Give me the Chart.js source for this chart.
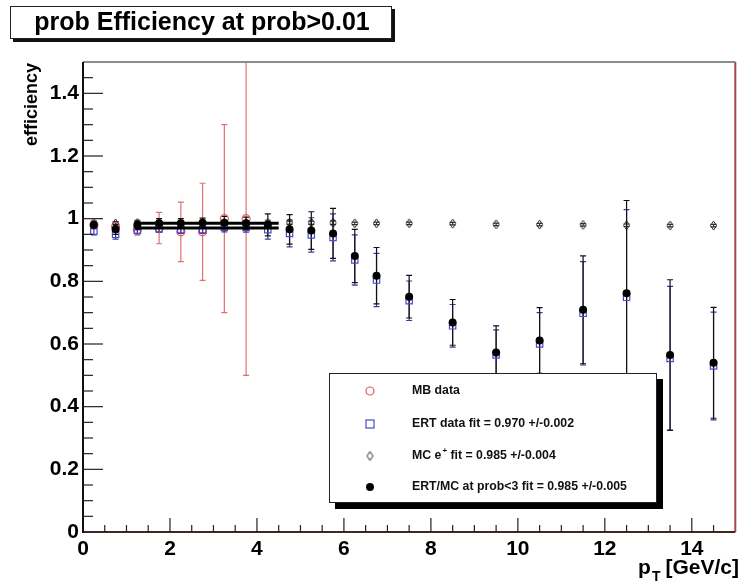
<!DOCTYPE html>
<html>
<head>
<meta charset="utf-8">
<script src="https://cdn.jsdelivr.net/npm/chart.js@4"></script>
<style>
  body { margin: 0; background: #fff; }
  #c { display: block; }
</style>
</head>
<body>
<canvas id="c" width="741" height="588"></canvas>
<script>
// pT bin centres
const xMB = [0.25, 0.75, 1.25, 1.75, 2.25, 2.75, 3.25, 3.75];
const xAll = [0.25, 0.75, 1.25, 1.75, 2.25, 2.75, 3.25, 3.75, 4.25, 4.75, 5.25, 5.75,
  6.25, 6.75, 7.5, 8.5, 9.5, 10.5, 11.5, 12.5, 13.5, 14.5];

// MB data (red circles)
const mbVals = [0.98, 0.975, 0.965, 0.97, 0.958, 0.958, 1.0, 1.0];
const mbErrs = [0.01, 0.012, 0.018, 0.05, 0.095, 0.155, 0.3, 0.5];

// ERT data (blue squares)
const ertVals = [0.96, 0.95, 0.963, 0.968, 0.965, 0.965, 0.973, 0.972, 0.965, 0.953, 0.948, 0.94,
  0.868, 0.804, 0.738, 0.658, 0.565, 0.6, 0.698, 0.749, 0.554, 0.53];
const ertErrs = [0.012, 0.015, 0.012, 0.012, 0.012, 0.012, 0.015, 0.015, 0.03, 0.043, 0.055, 0.075,
  0.08, 0.085, 0.063, 0.068, 0.08, 0.1, 0.165, 0.28, 0.23, 0.172];

// MC e+ (open diamonds)
const mcVals = [0.985, 0.985, 0.986, 0.986, 0.986, 0.986, 0.986, 0.986, 0.986, 0.987, 0.987, 0.987,
  0.985, 0.985, 0.985, 0.984, 0.982, 0.981, 0.98, 0.979, 0.978, 0.978];
const mcErrs = [0.006, 0.006, 0.005, 0.005, 0.005, 0.005, 0.005, 0.005, 0.005, 0.005, 0.005, 0.006,
  0.004, 0.004, 0.004, 0.004, 0.004, 0.004, 0.004, 0.004, 0.004, 0.004];

// ERT/MC at prob<3 (black dots)
const ratioVals = [0.98, 0.966, 0.98, 0.985, 0.985, 0.987, 0.987, 0.985, 0.98, 0.966, 0.962, 0.953,
  0.881, 0.818, 0.751, 0.669, 0.573, 0.611, 0.709, 0.762, 0.565, 0.54];
const ratioErrs = [0.012, 0.016, 0.015, 0.015, 0.015, 0.015, 0.02, 0.02, 0.035, 0.047, 0.06, 0.08,
  0.085, 0.09, 0.068, 0.073, 0.085, 0.105, 0.172, 0.296, 0.24, 0.177];

// fit lines (range and level)
const fitRange = [1.2, 4.5];
const fitErt = 0.970;
const fitRatio = 0.985;

const xTicks = [0, 2, 4, 6, 8, 10, 12, 14];
const yTicks = [0, 0.2, 0.4, 0.6, 0.8, 1, 1.2, 1.4];

const legendRows = [
  { text: "MB data", kind: "circle" },
  { text: "ERT data fit = 0.970 +/-0.002", kind: "square" },
  { text: "MC e", sup: "+", rest: " fit = 0.985 +/-0.004", kind: "diamond" },
  { text: "ERT/MC at prob<3 fit = 0.985 +/-0.005", kind: "dot" }
];

const RED = "#e05a5a";
const BLUE = "#4a4ad0";
const FONT = "'Liberation Sans', Arial, Helvetica, sans-serif";

// small ROOT-like diamond marker
function makeDiamond() {
  const cv = document.createElement("canvas");
  cv.width = 9; cv.height = 11;
  const g = cv.getContext("2d");
  g.strokeStyle = "#222";
  g.lineWidth = 1;
  g.beginPath();
  g.moveTo(4.5, 1); g.lineTo(7.5, 5.5); g.lineTo(4.5, 10); g.lineTo(1.5, 5.5); g.closePath();
  g.stroke();
  return cv;
}
const diamond = makeDiamond();

function pts(xs, ys) {
  return xs.map((x, i) => ({ x: x, y: ys[i] }));
}

// error bars drawn from the dataset's errs array
const errorBars = {
  id: "errorBars",
  beforeDatasetsDraw(chart) {
    const ctx = chart.ctx;
    const xs = chart.scales.x, ys = chart.scales.y;
    const a = chart.chartArea;
    ctx.save();
    ctx.beginPath();
    ctx.rect(a.left, a.top, a.right - a.left, a.bottom - a.top);
    ctx.clip();
    chart.data.datasets.forEach((ds) => {
      if (!ds.errs) return;
      ctx.strokeStyle = ds.errColor;
      ctx.lineWidth = 1.2;
      ds.data.forEach((p, i) => {
        const e = ds.errs[i];
        const px = xs.getPixelForValue(p.x);
        const y1 = ys.getPixelForValue(p.y + e);
        const y2 = ys.getPixelForValue(p.y - e);
        ctx.beginPath();
        ctx.moveTo(px, y1); ctx.lineTo(px, y2);
        ctx.moveTo(px - 3, y1); ctx.lineTo(px + 3, y1);
        ctx.moveTo(px - 3, y2); ctx.lineTo(px + 3, y2);
        ctx.stroke();
      });
    });
    ctx.restore();
  }
};

// frame, inward ticks, titles, legend box
const decorations = {
  id: "decorations",
  afterDraw(chart) {
    const ctx = chart.ctx;
    const xs = chart.scales.x, ys = chart.scales.y;
    const a = chart.chartArea;
    ctx.save();

    // frame
    ctx.lineWidth = 2;
    ctx.strokeStyle = "#8c8c8c";
    ctx.beginPath(); ctx.moveTo(a.left, a.top); ctx.lineTo(a.right, a.top); ctx.stroke();
    ctx.strokeStyle = "#a04a4a";
    ctx.beginPath(); ctx.moveTo(a.right, a.top); ctx.lineTo(a.right, a.bottom); ctx.stroke();
    ctx.strokeStyle = "#4a2222";
    ctx.beginPath(); ctx.moveTo(a.left, a.bottom); ctx.lineTo(a.right, a.bottom); ctx.stroke();
    ctx.strokeStyle = "#111";
    ctx.beginPath(); ctx.moveTo(a.left, a.top); ctx.lineTo(a.left, a.bottom + 1); ctx.stroke();

    // ticks
    ctx.lineWidth = 1.2;
    ctx.strokeStyle = "#222";
    for (let v = 0.5; v < 15; v += 0.5) {
      const px = xs.getPixelForValue(v);
      const len = (v % 2 === 0) ? 14 : 7;
      ctx.beginPath(); ctx.moveTo(px, a.bottom); ctx.lineTo(px, a.bottom - len); ctx.stroke();
    }
    for (let k = 1; k < 30; k++) {
      const v = k * 0.05;
      const py = ys.getPixelForValue(v);
      const len = (k % 4 === 0) ? 20 : 10;
      ctx.beginPath(); ctx.moveTo(a.left, py); ctx.lineTo(a.left + len, py); ctx.stroke();
    }

    // y title
    ctx.fillStyle = "#000";
    ctx.font = "bold 18px " + FONT;
    ctx.save();
    ctx.translate(37, a.top + 1);
    ctx.rotate(-Math.PI / 2);
    ctx.textAlign = "right";
    ctx.textBaseline = "alphabetic";
    ctx.fillText("efficiency", 0, 0);
    ctx.restore();

    // x title p_T [GeV/c]
    ctx.font = "bold 21px " + FONT;
    ctx.textBaseline = "alphabetic";
    ctx.textAlign = "right";
    const right = 739, base = 574;
    ctx.fillText("[GeV/c]", right, base);
    const w1 = ctx.measureText("[GeV/c]").width;
    ctx.font = "bold 14px " + FONT;
    const wT = ctx.measureText("T").width;
    ctx.fillText("T", right - w1 - 5, base + 7);
    ctx.font = "bold 21px " + FONT;
    ctx.fillText("p", right - w1 - 5 - wT - 1, base);

    // title box
    ctx.fillStyle = "#111";
    ctx.fillRect(13, 9, 382, 33);
    ctx.fillStyle = "#fff";
    ctx.fillRect(10, 6, 382, 33);
    ctx.strokeStyle = "#222";
    ctx.lineWidth = 1;
    ctx.strokeRect(10.5, 6.5, 381, 32);
    ctx.fillStyle = "#000";
    ctx.font = "bold 25px " + FONT;
    ctx.textAlign = "center";
    ctx.textBaseline = "middle";
    ctx.fillText("prob Efficiency at prob>0.01", 202, 23);

    // legend box
    const lx = 329, ly = 373, lw = 328, lh = 130;
    ctx.fillStyle = "#000";
    ctx.fillRect(lx + 6, ly + 6, lw, lh);
    ctx.fillStyle = "#fff";
    ctx.fillRect(lx, ly, lw, lh);
    ctx.strokeStyle = "#222";
    ctx.lineWidth = 1;
    ctx.strokeRect(lx + 0.5, ly + 0.5, lw - 1, lh - 1);
    const rowsY = [391, 424, 456, 487];
    legendRows.forEach((r, i) => {
      const my = rowsY[i], mx = 370;
      ctx.lineWidth = 1.2;
      if (r.kind === "circle") {
        ctx.strokeStyle = RED;
        ctx.beginPath(); ctx.arc(mx, my, 4, 0, Math.PI * 2); ctx.stroke();
      } else if (r.kind === "square") {
        ctx.strokeStyle = BLUE;
        ctx.strokeRect(mx - 4, my - 4, 8, 8);
      } else if (r.kind === "diamond") {
        ctx.drawImage(diamond, mx - 4.5, my - 5.5);
      } else {
        ctx.fillStyle = "#000";
        ctx.beginPath(); ctx.arc(mx, my, 4, 0, Math.PI * 2); ctx.fill();
      }
      ctx.fillStyle = "#111";
      ctx.font = "bold 12.3px " + FONT;
      ctx.textAlign = "left";
      ctx.textBaseline = "middle";
      let tx = 412;
      ctx.fillText(r.text, tx, my);
      if (r.sup) {
        tx += ctx.measureText(r.text).width + 1;
        ctx.font = "bold 8px " + FONT;
        ctx.fillText(r.sup, tx, my - 5);
        tx += ctx.measureText(r.sup).width;
        ctx.font = "bold 12.3px " + FONT;
        ctx.fillText(r.rest, tx, my);
      }
    });

    ctx.restore();
  }
};

new Chart(document.getElementById("c"), {
  type: "scatter",
  data: {
    datasets: [
      {
        label: "MB data",
        data: pts(xMB, mbVals),
        errs: mbErrs,
        errColor: "#e07070",
        pointStyle: "circle",
        pointRadius: 4,
        borderColor: RED,
        backgroundColor: "rgba(0,0,0,0)",
        borderWidth: 1.2,
        order: 4
      },
      {
        label: "ERT data",
        data: pts(xAll, ertVals),
        errs: ertErrs,
        errColor: "#3a3a9a",
        pointStyle: "rect",
        pointRadius: 4.5,
        borderColor: BLUE,
        backgroundColor: "rgba(0,0,0,0)",
        borderWidth: 1.2,
        order: 3
      },
      {
        label: "MC e+",
        data: pts(xAll, mcVals),
        errs: mcErrs,
        errColor: "#333",
        pointStyle: diamond,
        order: 2
      },
      {
        label: "ERT/MC",
        data: pts(xAll, ratioVals),
        errs: ratioErrs,
        errColor: "#111",
        pointStyle: "circle",
        pointRadius: 4,
        borderColor: "#000",
        backgroundColor: "#000",
        borderWidth: 0,
        order: 1
      },
      {
        type: "line",
        label: "fit ERT",
        data: pts(fitRange, [fitErt, fitErt]),
        borderColor: "#000",
        borderWidth: 3,
        pointRadius: 0,
        order: 0
      },
      {
        type: "line",
        label: "fit ratio",
        data: pts(fitRange, [fitRatio, fitRatio]),
        borderColor: "#000",
        borderWidth: 3,
        pointRadius: 0,
        order: 0
      }
    ]
  },
  options: {
    responsive: false,
    animation: false,
    devicePixelRatio: 1,
    layout: { padding: { top: 62, right: 2, left: 0, bottom: 0 } },
    plugins: {
      legend: { display: false },
      title: { display: false },
      tooltip: { enabled: false }
    },
    scales: {
      x: {
        type: "linear",
        min: 0,
        max: 15,
        grid: { display: false, tickLength: 0 },
        border: { display: false },
        afterBuildTicks: (s) => { s.ticks = xTicks.map((v) => ({ value: v })); },
        afterFit: (s) => { s.height = 56; },
        ticks: {
          color: "#000",
          padding: 5,
          maxRotation: 0,
          autoSkip: false,
          font: { family: FONT, size: 21, weight: "bold" }
        }
      },
      y: {
        min: 0,
        max: 1.5,
        grid: { display: false, tickLength: 0 },
        border: { display: false },
        afterBuildTicks: (s) => { s.ticks = yTicks.map((v) => ({ value: v })); },
        afterFit: (s) => { s.width = 83; },
        ticks: {
          color: "#000",
          padding: 4,
          autoSkip: false,
          font: { family: FONT, size: 21, weight: "bold" },
          callback: (v) => String(Math.round(v * 10) / 10)
        }
      }
    }
  },
  plugins: [errorBars, decorations]
});
</script>
</body>
</html>
